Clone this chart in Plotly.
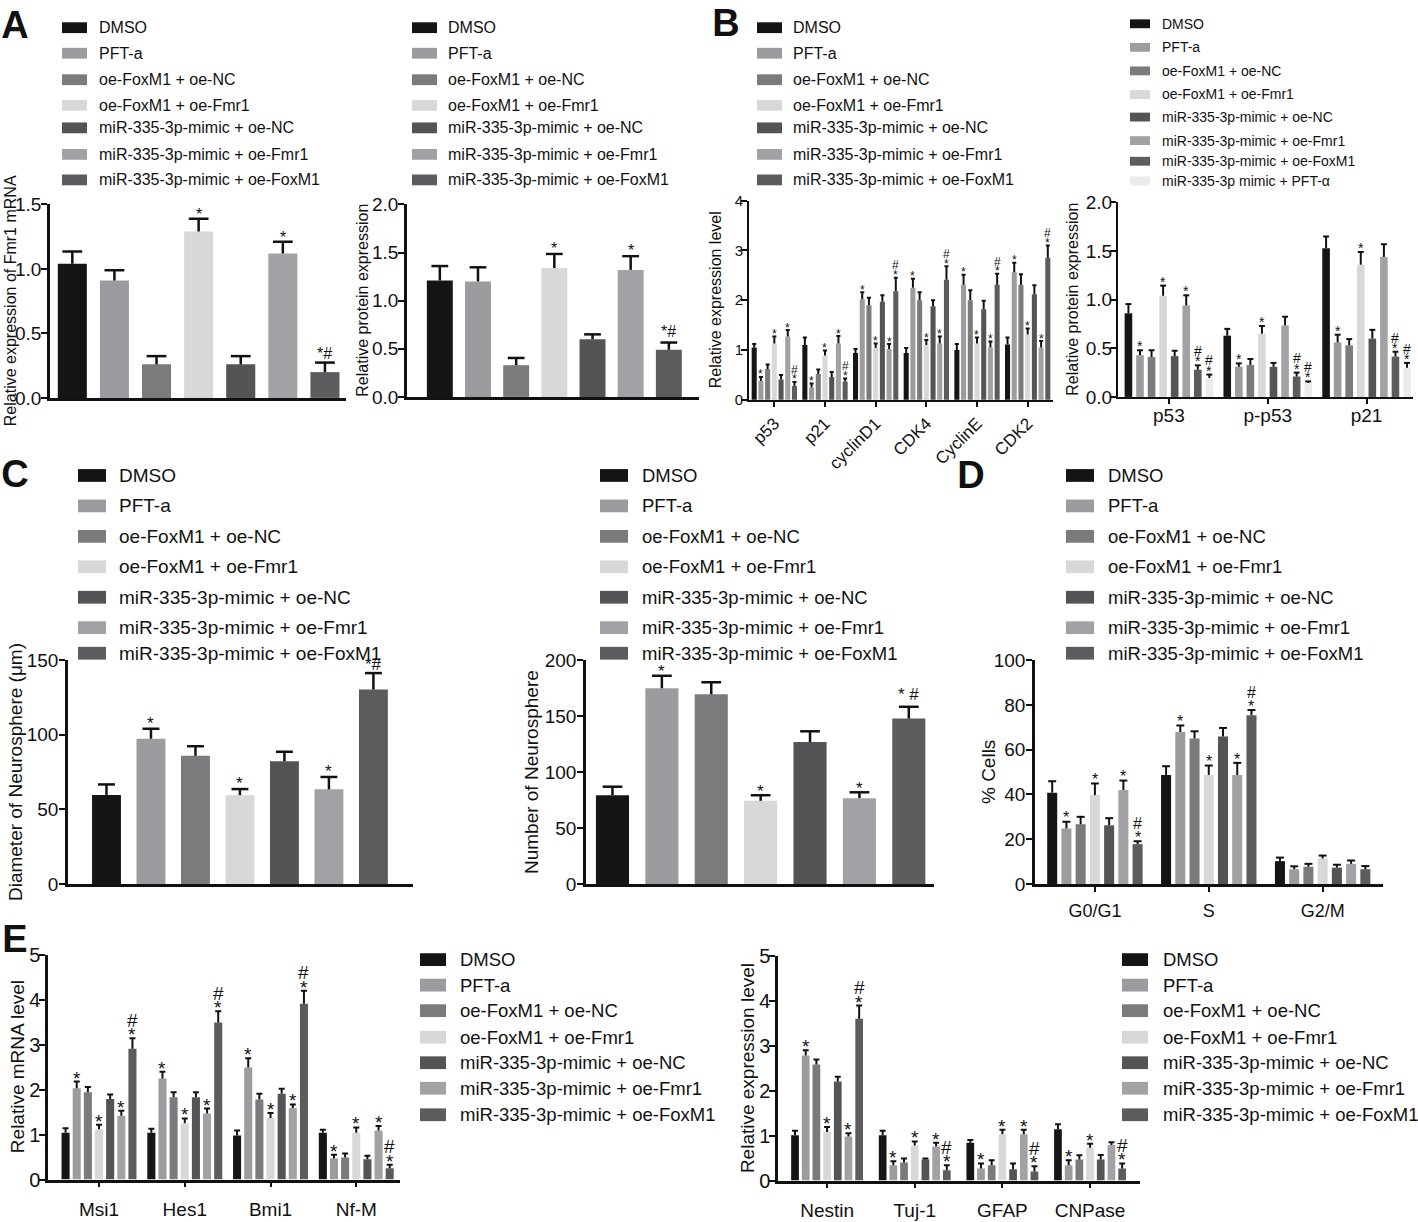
import plotly.graph_objects as go

W, H = 1418, 1222
FONT = "Liberation Sans, Arial, Helvetica, sans-serif"
INK = "#111111"

SERIES = [
    "DMSO", "PFT-a", "oe-FoxM1 + oe-NC", "oe-FoxM1 + oe-Fmr1",
    "miR-335-3p-mimic + oe-NC", "miR-335-3p-mimic + oe-Fmr1",
    "miR-335-3p-mimic + oe-FoxM1",
]
SERIES_B2 = SERIES + ["miR-335-3p mimic + PFT-α"]
COLORS = ["#151515", "#9c9ca0", "#7b7b7d", "#d8d8d8",
          "#545456", "#a2a2a6", "#5c5c5e", "#ebebeb"]

# ---------------- Panel A (one bar per series)
A1_VALUES = [1.04, 0.91, 0.26, 1.29, 0.26, 1.12, 0.20]
A1_ERRORS = [0.095, 0.08, 0.064, 0.10, 0.064, 0.09, 0.074]
A2_VALUES = [1.21, 1.20, 0.33, 1.34, 0.60, 1.32, 0.49]
A2_ERRORS = [0.15, 0.147, 0.075, 0.146, 0.05, 0.143, 0.075]
A_SIG = ["", "", "", "*", "", "*", "*#"]

# ---------------- Panel B
B1_GROUPS = ["p53", "p21", "cyclinD1", "CDK4", "CyclinE", "CDK2"]
B1_VALUES = [
    [1.05, 1.10, 0.94, 0.94, 1.00, 1.11],
    [0.38, 0.25, 2.02, 2.25, 2.31, 2.56],
    [0.62, 0.52, 1.90, 2.00, 2.00, 2.31],
    [1.13, 0.89, 1.04, 1.10, 1.13, 1.31],
    [0.41, 0.46, 1.97, 1.88, 1.82, 2.12],
    [1.27, 1.13, 1.02, 1.13, 1.05, 1.05],
    [0.28, 0.37, 2.18, 2.41, 2.31, 2.85],
]
B1_ERRORS = [
    [0.07, 0.15, 0.08, 0.10, 0.12, 0.14],
    [0.08, 0.08, 0.14, 0.18, 0.20, 0.19],
    [0.09, 0.09, 0.15, 0.16, 0.20, 0.21],
    [0.14, 0.10, 0.09, 0.10, 0.12, 0.12],
    [0.09, 0.10, 0.13, 0.12, 0.17, 0.18],
    [0.13, 0.15, 0.10, 0.14, 0.12, 0.13],
    [0.08, 0.06, 0.27, 0.27, 0.22, 0.25],
]
B1_SIG = [
    ["", "", "", "", "", ""],
    ["*", "*", "*", "*", "*", "*"],
    ["", "", "", "", "", ""],
    ["*", "*", "*", "*", "*", "*"],
    ["", "", "", "", "", ""],
    ["*", "*", "*", "*", "*", "*"],
    ["*/#", "*/#", "*/#", "*/#", "*/#", "*/#"],
]

B2_GROUPS = ["p53", "p-p53", "p21"]
B2_VALUES = [
    [0.86, 0.63, 1.53],
    [0.43, 0.31, 0.56],
    [0.41, 0.33, 0.53],
    [1.04, 0.65, 1.36],
    [0.42, 0.31, 0.60],
    [0.94, 0.735, 1.44],
    [0.28, 0.21, 0.415],
    [0.195, 0.145, 0.30],
]
B2_ERRORS = [
    [0.095, 0.07, 0.12],
    [0.05, 0.035, 0.08],
    [0.07, 0.06, 0.065],
    [0.105, 0.08, 0.13],
    [0.055, 0.04, 0.09],
    [0.105, 0.09, 0.13],
    [0.045, 0.04, 0.05],
    [0.035, 0.015, 0.05],
]
B2_SIG = [
    ["", "", ""], ["*", "*", "*"], ["", "", ""], ["*", "*", "*"],
    ["", "", ""], ["*", "", ""], ["*/#", "*/#", "*/#"], ["*/#", "*/#", "*/#"],
]

# ---------------- Panel C (one bar per series)
C1_VALUES = [59.7, 97.3, 85.9, 59.5, 82.2, 63.4, 130.3]
C1_ERRORS = [7.0, 6.7, 6.4, 4.1, 6.4, 8.3, 11.0]
C1_SIG = ["", "*", "", "*", "", "*", "*#"]
C2_VALUES = [79.3, 174.9, 169.4, 74.3, 126.8, 76.7, 147.8]
C2_ERRORS = [7.6, 11.1, 10.8, 5.0, 9.6, 5.2, 10.5]
C2_SIG = ["", "*", "", "*", "", "*", "* #"]

# ---------------- Panel D
D_GROUPS = ["G0/G1", "S", "G2/M"]
D_VALUES = [
    [40.8, 48.7, 10.2],
    [24.8, 67.9, 6.6],
    [26.7, 65.0, 7.7],
    [39.7, 48.7, 11.4],
    [26.2, 65.9, 7.3],
    [42.0, 48.7, 9.0],
    [17.8, 75.4, 6.6],
]
D_ERRORS = [
    [5.1, 3.9, 1.6],
    [3.0, 2.9, 1.3],
    [3.3, 3.2, 1.3],
    [5.2, 4.2, 1.3],
    [3.2, 3.8, 1.3],
    [4.2, 5.4, 1.5],
    [1.3, 2.3, 1.4],
]
D_SIG = [
    ["", "", ""], ["*", "*", ""], ["", "", ""], ["*", "*", ""],
    ["", "", ""], ["*", "*", ""], ["*/#", "*/#", ""],
]

# ---------------- Panel E
E1_GROUPS = ["Msi1", "Hes1", "Bmi1", "Nf-M"]
E1_VALUES = [
    [1.04, 1.04, 0.98, 1.04],
    [2.03, 2.25, 2.49, 0.47],
    [1.94, 1.83, 1.78, 0.49],
    [1.12, 1.25, 1.37, 1.04],
    [1.79, 1.83, 1.91, 0.45],
    [1.42, 1.47, 1.59, 1.09],
    [2.91, 3.49, 3.91, 0.25],
]
E1_ERRORS = [
    [0.10, 0.09, 0.11, 0.07],
    [0.15, 0.15, 0.21, 0.08],
    [0.12, 0.11, 0.13, 0.09],
    [0.10, 0.11, 0.11, 0.12],
    [0.10, 0.11, 0.11, 0.08],
    [0.11, 0.11, 0.08, 0.10],
    [0.23, 0.25, 0.29, 0.08],
]
E1_SIG = [
    ["", "", "", ""], ["*", "*", "*", "*"], ["", "", "", ""], ["*", "*", "*", "*"],
    ["", "", "", ""], ["*", "*", "*", "*"], ["*/#", "*/#", "*/#", "*/#"],
]

E2_GROUPS = ["Nestin", "Tuj-1", "GFAP", "CNPase"]
E2_VALUES = [
    [1.01, 1.01, 0.84, 1.14],
    [2.78, 0.34, 0.27, 0.34],
    [2.58, 0.40, 0.34, 0.47],
    [1.08, 0.78, 1.03, 0.73],
    [2.20, 0.47, 0.25, 0.47],
    [0.98, 0.76, 1.03, 0.79],
    [3.60, 0.23, 0.20, 0.27],
]
E2_ERRORS = [
    [0.10, 0.10, 0.06, 0.11],
    [0.12, 0.09, 0.11, 0.11],
    [0.11, 0.09, 0.11, 0.09],
    [0.11, 0.09, 0.10, 0.09],
    [0.11, 0.02, 0.13, 0.10],
    [0.07, 0.08, 0.10, 0.06],
    [0.29, 0.11, 0.12, 0.11],
]
E2_SIG = [
    ["", "", "", ""], ["*", "*", "*", "*"], ["", "", "", ""], ["*", "*", "*", "*"],
    ["", "", "", ""], ["*", "*", "*", ""], ["*/#", "*/#", "*/#", "*/#"],
]

# ---------------- layout specification of each panel (pixels of the page)
PANELS = [
    dict(v=A1_VALUES, e=A1_ERRORS, s=A_SIG, groups=None, names=SERIES,
         px=(50, 346), py=(197, 394), ymax=1.5, dtick=0.5, fmt=".1f",
         xr=(-0.53, 6.5), bw=0.69, slot=None, cap=0.235, elw=2.5, alw=2.5,
         tf=19, xtf=19, ystand=-4, xstand=0, sf=16, sgap=7, hgap=10, igap=9,
         title="Relative expression of Fmr1 mRNA", tx=10, ts=16),
    dict(v=A2_VALUES, e=A2_ERRORS, s=A_SIG, groups=None, names=SERIES,
         px=(407, 699), py=(197, 393), ymax=2.0, dtick=0.5, fmt=".1f",
         xr=(-0.86, 6.79), bw=0.68, slot=None, cap=0.22, elw=2.5, alw=2.5,
         tf=19, xtf=19, ystand=-4, xstand=0, sf=16, sgap=9, hgap=10, igap=11,
         title="Relative protein expression", tx=363, ts=16),
    dict(v=B1_VALUES, e=B1_ERRORS, s=B1_SIG, groups=B1_GROUPS, names=SERIES,
         px=(749, 1053), py=(193, 396), ymax=4, dtick=1, fmt="d",
         xr=(-0.5, 5.5), bw=0.10, slot=0.1325, cap=0.04, elw=2, alw=2,
         tf=15, xtf=17, ystand=-5, xstand=0, sf=12, sgap=4, hgap=7, igap=6,
         angle=-45, title="Relative expression level", tx=715, ts=16),
    dict(v=B2_VALUES, e=B2_ERRORS, s=B2_SIG, groups=B2_GROUPS, names=SERIES_B2,
         px=(1118, 1413), py=(195, 393), ymax=2.0, dtick=0.5, fmt=".1f",
         xr=(-0.515, 2.47), bw=0.077, slot=0.117, cap=0.03, elw=2, alw=2,
         tf=19, xtf=19, ystand=-6, xstand=-5, sf=14, sgap=6, hgap=7, igap=8,
         title="Relative protein expression", tx=1073, ts=16),
    dict(v=C1_VALUES, e=C1_ERRORS, s=C1_SIG, groups=None, names=SERIES,
         px=(68, 413), py=(661, 889), ymax=150, dtick=50, fmt="d",
         xr=(-0.865, 6.89), bw=0.65, slot=None, cap=0.19, elw=2.5, alw=2.5,
         tf=19, xtf=19, ystand=-3, xstand=0, sf=17, sgap=8, hgap=10, igap=8,
         title="Diameter of Neurosphere (μm)", tx=15, ts=19),
    dict(v=C2_VALUES, e=C2_ERRORS, s=C2_SIG, groups=None, names=SERIES,
         px=(586, 934), py=(661, 889), ymax=200, dtick=50, fmt="d",
         xr=(-0.536, 6.51), bw=0.67, slot=None, cap=0.2, elw=2.5, alw=2.5,
         tf=19, xtf=19, ystand=-3, xstand=0, sf=17, sgap=7, hgap=10, igap=11,
         title="Number of Neurosphere", tx=531, ts=19),
    dict(v=D_VALUES, e=D_ERRORS, s=D_SIG, groups=D_GROUPS, names=SERIES,
         px=(1035, 1383), py=(661, 889), ymax=100, dtick=20, fmt="d",
         xr=(-0.526, 2.53), bw=0.088, slot=0.125, cap=0.035, elw=2, alw=2.5,
         tf=19, xtf=18, ystand=-3, xstand=4, sf=16, sgap=7, hgap=10, igap=8,
         title="% Cells", tx=988, ts=19),
    dict(v=E1_VALUES, e=E1_ERRORS, s=E1_SIG, groups=E1_GROUPS, names=SERIES,
         px=(48, 400), py=(961, 1190), ymax=5, dtick=1, fmt="d",
         xr=(-0.595, 3.51), bw=0.094, slot=0.13, cap=0.035, elw=2, alw=2.5,
         tf=20, xtf=19, ystand=-5, xstand=6, sf=19, sgap=7, hgap=10, igap=8,
         title="Relative mRNA level", tx=17, ts=19),
    dict(v=E2_VALUES, e=E2_ERRORS, s=E2_SIG, groups=E2_GROUPS, names=SERIES,
         px=(778, 1140), py=(962, 1191), ymax=5, dtick=1, fmt="d",
         xr=(-0.56, 3.57), bw=0.088, slot=0.122, cap=0.034, elw=2, alw=2.5,
         tf=20, xtf=19, ystand=-5, xstand=6, sf=19, sgap=7, hgap=10, igap=8,
         title="Relative expression level", tx=747, ts=19),
]

LEGENDS = [
    dict(names=SERIES, sx=62, sw=25, sh=11, tx=97, fs=16,
         rows=[17, 43, 70, 96, 119, 146, 172]),
    dict(names=SERIES, sx=412, sw=25, sh=11, tx=446, fs=16,
         rows=[17, 43, 70, 96, 119, 146, 172]),
    dict(names=SERIES, sx=757, sw=25, sh=11, tx=791, fs=16,
         rows=[17, 43, 70, 96, 119, 146, 172]),
    dict(names=SERIES_B2, sx=1130, sw=20, sh=9, tx=1160, fs=14,
         rows=[13, 37, 61, 85, 108, 132, 153, 173]),
    dict(names=SERIES, sx=78, sw=28, sh=13, tx=117, fs=19,
         rows=[473, 504, 535, 566, 597, 628, 654]),
    dict(names=SERIES, sx=600, sw=28, sh=13, tx=640, fs=18.5,
         rows=[473, 504, 535, 566, 597, 628, 654]),
    dict(names=SERIES, sx=1066, sw=28, sh=13, tx=1106, fs=18.5,
         rows=[473, 504, 535, 566, 597, 628, 654]),
    dict(names=SERIES, sx=420, sw=26, sh=13, tx=458, fs=18.5,
         rows=[966, 992, 1018, 1045, 1071, 1097, 1124]),
    dict(names=SERIES, sx=1122, sw=26, sh=13, tx=1161, fs=18.5,
         rows=[966, 992, 1018, 1045, 1071, 1097, 1124]),
]

# panel letters: text, centre x, centre y of the capital (page pixels)
LETTER_TEXT = ["A", "B", "C", "D", "E"]
LETTER_X = [15, 726, 15, 971, 15]
LETTER_Y = [18, 16, 475, 476, 949]


def fx(p):
    return p / W


def fy(p):
    return 1 - p / H


fig = go.Figure()
annotations = []
shapes = []
layout = {}

for k, P in enumerate(PANELS, start=1):
    xa = "x" if k == 1 else f"x{k}"
    ya = "y" if k == 1 else f"y{k}"
    n = len(P["names"])
    grouped = P["groups"] is not None
    ex, ey = [], []
    for i in range(n):
        if grouped:
            xs = list(range(len(P["groups"])))
            ys = P["v"][i]
            es = P["e"][i]
            ss = P["s"][i]
            shift = (i - (n - 1) / 2) * P["slot"]
        else:
            xs = [i]
            ys = [P["v"][i]]
            es = [P["e"][i]]
            ss = [P["s"][i]]
            shift = 0.0
        fig.add_trace(go.Bar(
            x=xs, y=ys, width=P["bw"], offset=shift - P["bw"] / 2,
            marker=dict(color=COLORS[i], line=dict(width=0)),
            name=P["names"][i], xaxis=xa, yaxis=ya, showlegend=False,
        ))
        for xg, yv, ev, sg in zip(xs, ys, es, ss):
            xc = xg + shift
            top = yv + ev
            ex += [xc, xc, None, xc - P["cap"], xc + P["cap"], None]
            ey += [yv, top, None, top, top, None]
            if not sg:
                continue
            sf = P["sf"]
            base = dict(x=xc, y=top, xref=xa, yref=ya, showarrow=False,
                        xanchor="center", yanchor="bottom")
            fnt = dict(family=FONT, size=sf, color=INK)
            if sg == "*":
                annotations.append(dict(base, text="*", font=fnt,
                                        yshift=P["sgap"] - (1 + 0.79 * sf)))
            elif sg == "*/#":
                annotations.append(dict(base, text="*", font=fnt,
                                        yshift=P["sgap"] - (1 + 0.79 * sf)))
                annotations.append(dict(base, text="#", font=fnt,
                                        yshift=P["sgap"] + P["hgap"] - (1 + 0.56 * sf)))
            else:
                annotations.append(dict(base, text=sg, font=fnt,
                                        yshift=P["igap"] - (1 + 0.56 * sf)))
    fig.add_trace(go.Scatter(x=ex, y=ey, mode="lines", xaxis=xa, yaxis=ya,
                             line=dict(color=INK, width=P["elw"]),
                             hoverinfo="skip", showlegend=False))

    xkey = "xaxis" if k == 1 else f"xaxis{k}"
    ykey = "yaxis" if k == 1 else f"yaxis{k}"
    xax = dict(domain=[fx(P["px"][0]), fx(P["px"][1])], range=list(P["xr"]),
               anchor=ya, showline=True, linecolor=INK, linewidth=P["alw"],
               showgrid=False, zeroline=False, fixedrange=True)
    if grouped:
        xax.update(tickmode="array", tickvals=list(range(len(P["groups"]))),
                   ticktext=P["groups"], ticks="outside", ticklen=5,
                   tickwidth=2, tickcolor=INK, ticklabelstandoff=P["xstand"],
                   tickfont=dict(family=FONT, size=P["xtf"], color=INK),
                   tickangle=P.get("angle", 0))
    else:
        xax.update(showticklabels=False, ticks="")
    layout[xkey] = xax
    layout[ykey] = dict(domain=[fy(P["py"][1]), fy(P["py"][0])],
                        range=[0, P["ymax"]], dtick=P["dtick"], tick0=0,
                        tickformat=P["fmt"], anchor=xa, showline=True,
                        linecolor=INK, linewidth=P["alw"], ticks="outside",
                        ticklen=6, tickwidth=2, tickcolor=INK,
                        ticklabelstandoff=P["ystand"],
                        showgrid=False, zeroline=False, fixedrange=True,
                        tickfont=dict(family=FONT, size=P["tf"], color=INK))
    annotations.append(dict(x=fx(P["tx"]), y=fy((P["py"][0] + P["py"][1]) / 2),
                            xref="paper", yref="paper", text=P["title"],
                            textangle=-90, showarrow=False, xanchor="center",
                            yanchor="middle",
                            font=dict(family=FONT, size=P["ts"], color=INK)))

for L in LEGENDS:
    for name, col, yc in zip(L["names"], COLORS, L["rows"]):
        shapes.append(dict(type="rect", xref="paper", yref="paper",
                           x0=fx(L["sx"]), x1=fx(L["sx"] + L["sw"]),
                           y0=fy(yc + L["sh"] / 2), y1=fy(yc - L["sh"] / 2),
                           fillcolor=col, line=dict(width=0)))
        annotations.append(dict(x=fx(L["tx"]), y=fy(yc), xref="paper", yref="paper",
                                text=name, showarrow=False, xanchor="left",
                                yanchor="middle",
                                font=dict(family=FONT, size=L["fs"], color=INK)))

# panel letters drawn as a text trace on a full-page pixel overlay axis
ko = len(PANELS) + 1
fig.add_trace(go.Scatter(
    x=LETTER_X, y=LETTER_Y, mode="text",
    text=[f"<b>{t}</b>" for t in LETTER_TEXT], textposition="middle center",
    textfont=dict(family=FONT, size=38, color=INK), cliponaxis=False,
    xaxis=f"x{ko}", yaxis=f"y{ko}", hoverinfo="skip", showlegend=False,
))
layout[f"xaxis{ko}"] = dict(domain=[0, 1], range=[0, W], visible=False,
                            anchor=f"y{ko}", fixedrange=True)
layout[f"yaxis{ko}"] = dict(domain=[0, 1], range=[H, 0], visible=False,
                            anchor=f"x{ko}", fixedrange=True)

fig.update_layout(
    width=W, height=H, margin=dict(l=0, r=0, t=0, b=0),
    paper_bgcolor="white", plot_bgcolor="rgba(0,0,0,0)", barmode="overlay",
    showlegend=False, annotations=annotations, shapes=shapes,
    font=dict(family=FONT, color=INK), **layout,
)

fig.write_html("out.html", config={"displayModeBar": False},
               post_script="document.body.style.margin='0';document.body.style.overflow='hidden';")
